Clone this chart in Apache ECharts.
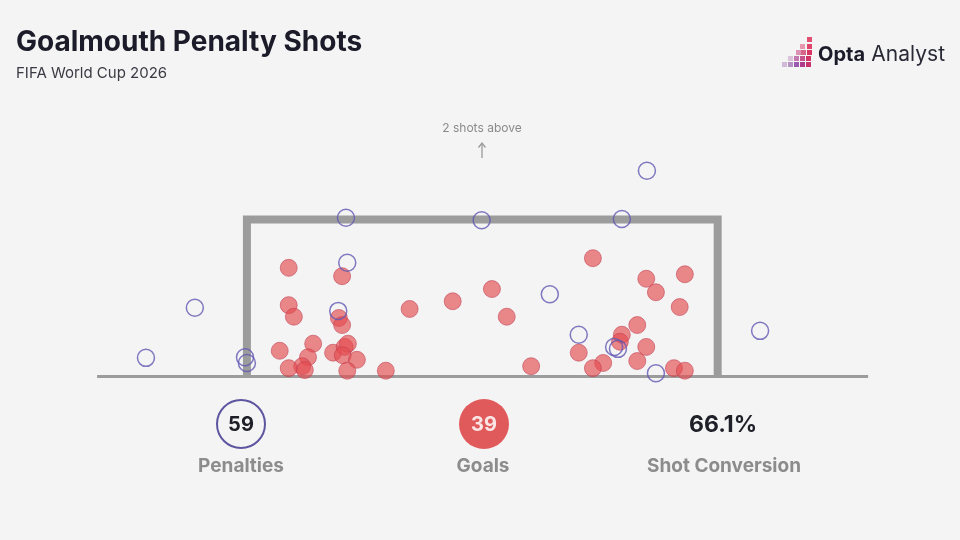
<!DOCTYPE html>
<html><head><meta charset="utf-8">
<script src="https://cdn.jsdelivr.net/npm/echarts@6/dist/echarts.min.js"></script>
<style>html,body{margin:0;padding:0;background:#f4f4f4}#c{width:960px;height:540px}</style>
</head><body><div id="c"></div>
<script>
// Goal dimensions (metres)
const goalWidth = 7.32;
const goalHeight = 2.44;

// Scored penalties (x across goal from left post, y height above ground), metres
const goalsX = [0.65,1.48,0.65,0.73,1.43,1.48,0.51,1.03,0.95,0.86,0.90,0.65,1.34,1.52,1.57,1.49,1.71,1.56,2.16,
                2.53,3.20,3.81,4.04,4.42,
                5.38,6.81,6.21,6.36,6.73,6.07,5.83,5.80,6.21,5.16,6.07,5.54,5.38,6.64,6.81];
const goalsY = [1.69,1.56,1.11,0.93,0.91,0.80,0.40,0.51,0.30,0.16,0.10,0.13,0.37,0.46,0.51,0.33,0.26,0.09,0.09,
                1.05,1.17,1.36,0.93,0.16,
                1.84,1.59,1.52,1.31,1.08,0.80,0.65,0.54,0.46,0.37,0.24,0.21,0.13,0.13,0.09];

// Missed / saved penalties
const missX = [1.54,3.65,5.83,6.22,1.56,-0.81,-1.57,-0.03,0.00,1.42,4.71,5.16,5.71,5.77,6.36,7.98];
const missY = [2.47,2.43,2.45,3.20,1.77,1.07,0.29,0.30,0.21,1.02,1.28,0.65,0.46,0.43,0.05,0.71];

// Summary figures
const totalPenalties = 59;
const totalGoals = 39;
const shotsAbove = 2;
const conversionText = (totalGoals / totalPenalties * 100).toFixed(1) + '%';

const goalData = goalsX.map((x, i) => [x, goalsY[i]]);
const missData = missX.map((x, i) => [x, missY[i]]);
const frameData = [[0, 0], [0, goalHeight], [goalWidth, goalHeight], [goalWidth, 0]];
const groundData = [[-2.33, 0], [9.66, 0]];

const chart = echarts.init(document.getElementById('c'), null, {renderer: 'canvas'});
const FONT = 'Inter, Roboto, "Noto Sans", sans-serif';

const iconSquares = [];
const iconLayout = [
  [782,62,'#b58ac0',0.55],[788,62,'#a070b4',0.75],[794,62,'#8e4aa8',0.9],[800,62,'#b23a8a',1],[806,62,'#c8336e',1],
  [788,56,'#c090c0',0.5],[794,56,'#b85aa0',0.8],[800,56,'#c0407e',0.9],[806,56,'#d23468',1],
  [796,50,'#d06a98',0.7],[801,50,'#d04a78',0.85],[807,50,'#d83562',1],
  [800,44,'#e07090',0.7],[807,44,'#de3a62',0.95],[807,37,'#e0446a',0.95]
];
iconLayout.forEach(s => iconSquares.push({
  type: 'rect', shape: {x: s[0], y: s[1], width: 5, height: 5},
  style: {fill: s[2], opacity: s[3]}, silent: true
}));

chart.setOption({
  animation: false,
  backgroundColor: '#f4f4f4',
  grid: {left: 54, right: 70, top: 119.3, bottom: 131.35, containLabel: false},
  xAxis: {type: 'value', min: -3, max: 10, show: false},
  yAxis: {type: 'value', min: -0.5, max: 4, show: false},
  series: [
    {type: 'line', data: groundData, symbol: 'none', z: 1,
     lineStyle: {color: '#9c9c9c', width: 3}},
    {type: 'line', data: frameData, symbol: 'none', z: 2,
     lineStyle: {color: '#9c9c9c', width: 8, cap: 'butt', join: 'miter'}},
    {type: 'scatter', data: goalData, symbolSize: 17, z: 3,
     itemStyle: {color: 'rgba(228,76,80,0.82)', borderColor: 'rgba(190,60,80,0.7)', borderWidth: 1}},
    {type: 'scatter', data: missData, symbolSize: 17, z: 4,
     itemStyle: {color: 'rgba(0,0,0,0)', borderColor: '#6157b3', borderWidth: 1.5}}
  ],
  graphic: [
    {type: 'text', x: 16, y: 43, silent: true,
     style: {text: 'Goalmouth Penalty Shots', font: 'bold 28px ' + FONT, fill: '#1b1b29', textVerticalAlign: 'middle'}},
    {type: 'text', x: 16, y: 73, silent: true,
     style: {text: 'FIFA World Cup 2026', font: '15px ' + FONT, fill: '#3a3a44', textVerticalAlign: 'middle'}},
    ...iconSquares,
    {type: 'text', x: 818, y: 55, silent: true,
     style: {text: 'Opta', font: 'bold 20px ' + FONT, fill: '#1b1b29', textVerticalAlign: 'middle'}},
    {type: 'text', x: 945, y: 55, silent: true,
     style: {text: 'Analyst', font: '21px ' + FONT, fill: '#2a2a36', textAlign: 'right', textVerticalAlign: 'middle'}},
    {type: 'text', x: 482, y: 128, silent: true,
     style: {text: shotsAbove + ' shots above', font: '12px ' + FONT, fill: '#8a8a8a', textAlign: 'center', textVerticalAlign: 'middle'}},
    {type: 'line', silent: true, shape: {x1: 482, y1: 158, x2: 482, y2: 143},
     style: {stroke: '#9a9a9a', lineWidth: 1.3}},
    {type: 'polyline', silent: true, shape: {points: [[478.5, 147.5], [482, 143], [485.5, 147.5]]},
     style: {stroke: '#9a9a9a', lineWidth: 1.3, fill: null}},
    {type: 'circle', silent: true, shape: {cx: 241, cy: 424, r: 24},
     style: {fill: 'rgba(0,0,0,0)', stroke: '#5d55a0', lineWidth: 2}},
    {type: 'text', x: 241, y: 425, silent: true,
     style: {text: String(totalPenalties), font: 'bold 20px ' + FONT, fill: '#1f1f28', textAlign: 'center', textVerticalAlign: 'middle'}},
    {type: 'circle', silent: true, shape: {cx: 484, cy: 424, r: 25},
     style: {fill: '#e05a5c'}},
    {type: 'text', x: 484, y: 425, silent: true,
     style: {text: String(totalGoals), font: 'bold 20px ' + FONT, fill: '#fbe4e4', textAlign: 'center', textVerticalAlign: 'middle'}},
    {type: 'text', x: 723, y: 425, silent: true,
     style: {text: conversionText, font: 'bold 23px ' + FONT, fill: '#1f1f28', textAlign: 'center', textVerticalAlign: 'middle'}},
    {type: 'text', x: 241, y: 466, silent: true,
     style: {text: 'Penalties', font: 'bold 19px ' + FONT, fill: '#8c8c8c', textAlign: 'center', textVerticalAlign: 'middle'}},
    {type: 'text', x: 483, y: 466, silent: true,
     style: {text: 'Goals', font: 'bold 19px ' + FONT, fill: '#8c8c8c', textAlign: 'center', textVerticalAlign: 'middle'}},
    {type: 'text', x: 724, y: 466, silent: true,
     style: {text: 'Shot Conversion', font: 'bold 19px ' + FONT, fill: '#8c8c8c', textAlign: 'center', textVerticalAlign: 'middle'}}
  ]
});
</script>
</body></html>
